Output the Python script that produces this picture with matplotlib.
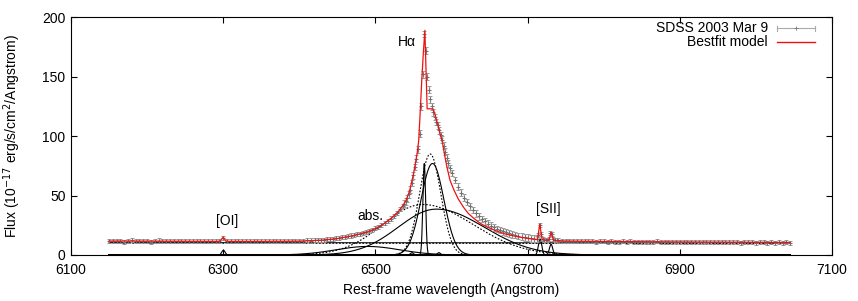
import numpy as np
import matplotlib
matplotlib.use("Agg")
import matplotlib.pyplot as plt

plt.rcParams['font.family'] = ['Liberation Sans', 'DejaVu Sans']
plt.rcParams['font.size'] = 10

wl_seg1 = np.arange(6150, 6416, 5)
fl_seg1 = [11.9, 11.4, 12.1, 11.6, 11.2, 11.8, 12.3, 11.7, 11.5, 12.0,
           11.9, 11.3, 11.7, 12.2, 11.8, 11.4, 11.9, 11.6, 11.9, 12.1,
           11.7, 11.5, 11.8, 11.9, 11.6, 11.4, 11.8, 11.7, 11.5, 11.9,
           14.6, 12.0, 11.6, 11.8, 11.5, 11.7, 11.9, 11.4, 11.6, 11.8,
           11.5, 11.7, 11.6, 11.9, 11.5, 11.8, 11.7, 11.9, 12.0, 11.8,
           12.1, 12.0, 12.3, 12.2]
wl_seg2 = np.arange(6420, 6537, 4)
fl_seg2 = [12.4, 12.6, 12.7, 12.9, 13.2, 13.4, 13.7, 14.0, 14.4, 14.8,
           15.3, 15.8, 16.4, 16.9, 17.4, 18.0, 18.8, 19.6, 20.4, 21.4,
           22.5, 23.7, 25.1, 26.8, 28.6, 30.7, 33.0, 35.6, 38.4, 41.5]
wl_seg3 = np.arange(6538, 6601, 2)
fl_seg3 = [43.2, 45.2, 47.8, 51.0, 55.0, 60.5, 67.0, 74.0, 81.0, 89.0,
           102, 125, 152, 186, 172, 150, 139, 131, 125, 120,
           116, 112, 109, 105, 101, 97, 92, 87, 82, 77,
           73, 69]
wl_seg4 = np.arange(6604, 6713, 4)
fl_seg4 = [63, 57.5, 52.5, 48.2, 44.5, 41, 37.8, 35, 32.5, 30.2,
           28.3, 26.5, 24.8, 23.3, 22.0, 20.9, 19.9, 19.0, 18.2, 17.4,
           16.7, 16.0, 15.4, 14.9, 14.5, 14.1, 13.8, 13.6]
wl_seg5 = np.arange(6714, 6741, 2)
fl_seg5 = [17, 25.5, 18, 13.4, 13.0, 12.8, 12.7, 13.8, 18.5, 17.5,
           13.2, 12.5, 12.3, 12.2]
wl_seg6 = np.arange(6745, 7046, 5)
fl_seg6 = [12.0, 11.8, 11.9, 11.6, 11.7, 11.5, 11.6, 11.4, 11.7, 11.3,
           11.5, 11.4, 11.2, 11.6, 11.3, 11.1, 11.5, 11.2, 11.4, 11.0,
           11.3, 11.2, 10.9, 11.3, 11.1, 11.4, 11.0, 11.2, 10.9, 11.1,
           10.8, 11.2, 11.0, 10.7, 11.1, 10.9, 11.0, 10.7, 10.9, 11.1,
           10.8, 10.6, 10.9, 10.8, 10.6, 10.9, 10.7, 10.5, 10.8, 10.6,
           10.7, 10.5, 10.8, 10.6, 10.4, 10.7, 10.5, 10.6, 10.4, 10.6,
           10.5]
err_continuum = 1.7
err_line = 2.8

# ---------------- best-fit model (red) ----------------
model_wl = [6150, 6200, 6250, 6290, 6296, 6300, 6304, 6310, 6350, 6400,
            6430, 6450, 6470, 6490, 6500, 6510, 6520, 6530, 6535, 6540,
            6545, 6550, 6555, 6557, 6559, 6561, 6563, 6565, 6568, 6575.5,
            6578, 6581, 6585, 6588, 6591, 6594, 6598, 6603, 6609, 6616,
            6622, 6629, 6638, 6647, 6658, 6669, 6680, 6690, 6700, 6710,
            6713, 6716, 6719, 6722, 6726, 6728, 6731, 6734, 6737, 6750,
            6800, 6900, 7000, 7045]
model_fl = [11.8, 11.7, 11.6, 11.5, 11.6, 15.0, 11.6, 11.5, 11.5, 11.7,
            12.5, 13.8, 16.2, 19.5, 22.0, 25.8, 30.5, 36.5, 40.6, 45.5,
            54, 68, 86, 97, 122, 148, 170, 189, 123, 123,
            119, 112, 102, 95, 84, 74, 63, 55, 47, 40,
            35, 31, 26.5, 23.5, 20.5, 18.0, 16.3, 15.0, 14.0, 13.2,
            13.0, 26.0, 13.2, 12.6, 12.5, 12.6, 19.0, 12.4, 12.2, 11.8,
            11.4, 11.0, 10.7, 10.5]

# ---------------- model components (Gaussian parameters) ----------------
# solid components: center, peak, sigma_left, sigma_right
solid_center = [6300.3, 6548.0, 6564.2, 6583.4, 6716.4, 6730.8, 6575.0, 6580.0, 6490.0]
solid_peak   = [4.0,    2.0,    77.0,   2.0,    13.5,   9.0,    77.0,   38.6,   7.2]
solid_sigl   = [2.2,    2.0,    1.8,    2.0,    2.2,    2.2,    15.0,   50.0,   42.0]
solid_sigr   = [2.2,    2.0,    1.8,    2.0,    2.2,    2.2,    15.0,   63.0,   42.0]
# dotted components
dot_center = [6572.0, 6562.0]
dot_peak   = [85.0,   42.5]
dot_sigl   = [14.0,   52.0]
dot_sigr   = [14.0,   66.0]
# continuum levels (solid and dotted)
continuum_wl = [6150, 7045]
continuum_solid = [10.4, 10.2]
continuum_dotted = [10.0, 9.7]

# ---------------- text ----------------
xticks = [6100, 6300, 6500, 6700, 6900, 7100]
yticks = [0, 50, 100, 150, 200]
labels = [("H\u03b1", 6541, 179), ("abs.", 6494, 33), ("[OI]", 6305, 28.6), ("[SII]", 6727, 39)]


def split_gauss(x, c, a, sl, sr):
    s = np.where(x < c, sl, sr)
    return a * np.exp(-0.5 * ((x - c) / s) ** 2)


fig = plt.figure(figsize=(8.58, 3.01), dpi=100)
ax = fig.add_axes([71 / 858, 46 / 301, 761 / 858, 237.7 / 301])

grid = np.linspace(6150, 7045, 6000)
for c, a, sl, sr in zip(solid_center, solid_peak, solid_sigl, solid_sigr):
    ax.plot(grid, split_gauss(grid, c, a, sl, sr), color='black', lw=0.8, zorder=2)
for c, a, sl, sr in zip(dot_center, dot_peak, dot_sigl, dot_sigr):
    ax.plot(grid, split_gauss(grid, c, a, sl, sr), color='black', lw=0.8,
            ls=(0, (1.5, 1.5)), zorder=2)
ax.plot(continuum_wl, continuum_solid, color='black', lw=0.7, zorder=2)
ax.plot(continuum_wl, continuum_dotted, color='black', lw=0.8, ls=(0, (1.5, 1.5)), zorder=2)

segs = [(wl_seg1, fl_seg1, err_continuum), (wl_seg2, fl_seg2, err_continuum),
        (wl_seg3, fl_seg3, err_line), (wl_seg4, fl_seg4, err_line),
        (wl_seg5, fl_seg5, err_continuum), (wl_seg6, fl_seg6, err_continuum)]
for w, f, e in segs:
    ax.errorbar(w, f, yerr=e, fmt='+', ms=3, mew=0.7, color='#707070',
                ecolor='#9a9a9a', elinewidth=0.9, capsize=1.5, capthick=0.7, zorder=3)

ax.plot(model_wl, model_fl, color='#ee1111', lw=0.9, zorder=4)

for t, x, y in labels:
    ax.text(x, y, t, ha='center', va='center', fontsize=10, zorder=6)

# legend (gnuplot style: text right-aligned, sample on the right)
ax.text(0.916, 0.954, "SDSS 2003 Mar 9", transform=ax.transAxes, ha='right', va='center', fontsize=10)
ax.text(0.916, 0.895, "Bestfit model", transform=ax.transAxes, ha='right', va='center', fontsize=10)
ax.plot([0.928, 0.978], [0.954, 0.954], transform=ax.transAxes, color='#aaaaaa', lw=0.8)
for xx in (0.928, 0.978):
    ax.plot([xx, xx], [0.944, 0.964], transform=ax.transAxes, color='#aaaaaa', lw=0.8)
ax.plot([0.953], [0.954], transform=ax.transAxes, marker='+', ms=2.5, color='#777777', mew=0.6)
ax.plot([0.928, 0.978], [0.895, 0.895], transform=ax.transAxes, color='#ee1111', lw=1.0)

ax.set_xlim(6100, 7100)
ax.set_ylim(0, 200)
ax.set_xticks(xticks)
ax.set_yticks(yticks)
ax.tick_params(direction='in', length=4, width=0.8, top=True, right=True, labelsize=10)
ax.tick_params(axis='x', pad=6)
ax.tick_params(axis='y', pad=4)
for s in ax.spines.values():
    s.set_linewidth(0.8)
ax.set_xlabel("Rest-frame wavelength (Angstrom)", fontsize=10, labelpad=4)
ax.set_ylabel("Flux (10$^{-17}$ erg/s/cm$^2$/Angstrom)", fontsize=10, labelpad=14)

fig.savefig("out.png", dpi=100)
